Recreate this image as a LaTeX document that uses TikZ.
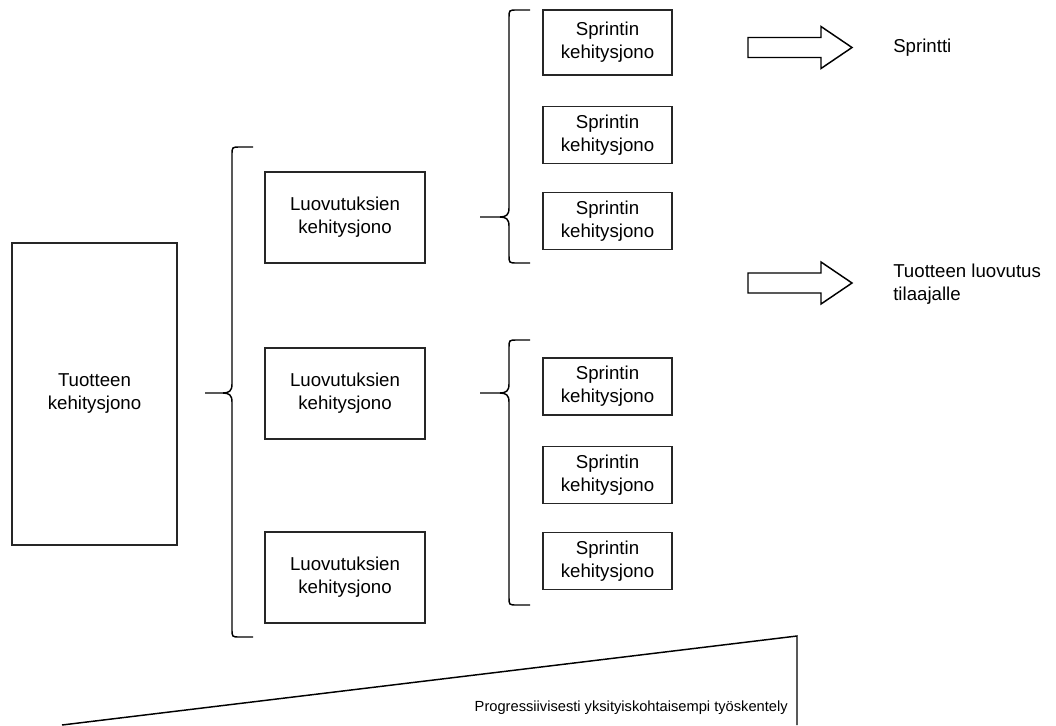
\documentclass[tikz,border=0pt]{standalone}
\usepackage{fontspec}
\setmainfont{Liberation Sans}
\begin{document}
\begin{tikzpicture}[x=0.75pt,y=-0.75pt,
  every node/.style={font=\fontsize{14pt}{17.25pt}\selectfont, inner sep=0pt},
  box/.style={draw=black!85, line width=1.1pt, align=center},
  tbox/.style={box, minimum width=123.75pt, minimum height=226.5pt},
  lbox/.style={box, minimum width=120pt, minimum height=68.25pt},
  sbox/.style={box, minimum width=96.75pt, minimum height=42.75pt},
  brace/.style={draw=black, line width=1.1pt},
  fatarrow/.style={draw=black, line width=1.1pt, line join=miter},
  label/.style={align=left, anchor=west}]
\useasboundingbox (0,0) rectangle (1056,725);

% backlog boxes
\node[tbox] (tk) at (94.5,394) {Tuotteen\\kehitysjono};
\node[lbox] (l1) at (345,217.5) {Luovutuksien\\kehitysjono};
\node[lbox] (l2) at (345,393.5) {Luovutuksien\\kehitysjono};
\node[lbox] (l3) at (345,577.5) {Luovutuksien\\kehitysjono};
\node[sbox, minimum height=48.75pt] (s1) at (607.5,42.5) {Sprintin\\kehitysjono};
\node[sbox] (s2) at (607.5,135) {Sprintin\\kehitysjono};
\node[sbox] (s3) at (607.5,221) {Sprintin\\kehitysjono};
\node[sbox] (s4) at (607.5,386.5) {Sprintin\\kehitysjono};
\node[sbox] (s5) at (607.5,475) {Sprintin\\kehitysjono};
\node[sbox] (s6) at (607.5,561) {Sprintin\\kehitysjono};

% curly braces: x, top, bottom, right end, tip x, tip y
\newcommand{\curly}[6]{%
  \draw[brace] (#4,#2) -- (#1+8,#2) .. controls (#1,#2) .. (#1,#2+8)
    -- (#1,#6-9) .. controls (#1,#6-2) and (#1-3,#6) .. (#1-9,#6) -- (#5,#6);
  \draw[brace] (#4,#3) -- (#1+8,#3) .. controls (#1,#3) .. (#1,#3-8)
    -- (#1,#6+9) .. controls (#1,#6+2) and (#1-3,#6) .. (#1-9,#6);
}
\curly{232}{147}{637}{253}{205}{393}
\curly{509}{10}{263}{530}{480}{217}
\curly{509}{340}{605}{530}{480}{393}

% block arrows
\coordinate (a1) at (748,47.5);
\coordinate (a2) at (748,283);
\foreach \a in {a1,a2}{
  \draw[fatarrow] ([yshift=-7.5pt]\a) -- ++(73,0) -- ++(0,-8.25pt)
    -- ++(31,15.75pt) -- ++(-31,15.75pt) -- ++(0,-8.25pt) -- ++(-73,0) -- cycle;
}
\node[label] (sp) at (893,47.5) {Sprintti};
\node[label] (tl) at (893,284) {Tuotteen luovutus\\tilaajalle};

% widening wedge
\coordinate (w1) at (62,725);
\coordinate (w2) at (797,636);
\coordinate (w3) at (797,725);
\draw[line width=1.1pt] (w1) -- (w2) -- (w3);
\node[anchor=east, font=\fontsize{11pt}{13pt}\selectfont] (pg) at (788,708)
  {Progressiivisesti yksityiskohtaisempi työskentely};
\end{tikzpicture}
\end{document}
